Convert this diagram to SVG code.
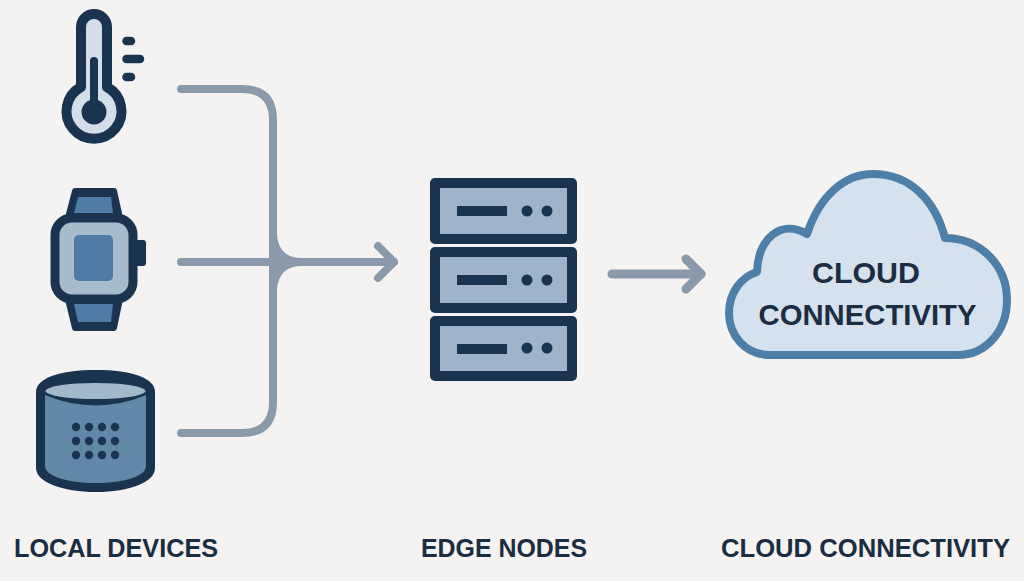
<svg xmlns="http://www.w3.org/2000/svg" width="1024" height="581" viewBox="0 0 1024 581">
<style>
.dark{fill:#1a3450}
.ds{stroke:#1a3450;stroke-linecap:round;stroke-linejoin:round;fill:none}
.conn{stroke:#8a9aaa;stroke-width:8;fill:none;stroke-linecap:round;stroke-linejoin:round}
.conn2{stroke:#8a9aaa;stroke-width:9;fill:none;stroke-linecap:round;stroke-linejoin:round}
.srv{fill:#9fb4ca;stroke:#1a3450;stroke-width:10;stroke-linejoin:round}
.strap{fill:#1a3450;stroke:#1a3450;stroke-width:6;stroke-linejoin:round}
text{font-family:"Liberation Sans",Arial,sans-serif;font-weight:700;fill:#1a2d42}
</style>
<rect width="1024" height="581" fill="#f4f3f1"/>
<g id="connectors">
<path class="conn" d="M181 89H242Q273 89 273 120V402Q273 433 242 433H181"/>
<path class="conn" d="M181 262H394"/>
<path class="conn" d="M378 246L394 262L378 278"/>
<path d="M269 235H277Q279 258 302 258V266Q279 266 277 289H269Z" fill="#8a9aaa"/>
<path class="conn2" d="M612 274H701"/>
<path class="conn2" d="M686 259L701 274L686 289"/>
</g>
<g id="thermometer">
<path d="M81 87V27A13 13 0 0 1 107 27V87A27.500 27.500 0 1 1 81 87Z" fill="#d3dee8" stroke="#1a3450" stroke-width="10" stroke-linejoin="round"/>
<circle class="dark" cx="94" cy="112" r="12.500"/>
<path class="ds" stroke-width="8" d="M94 61V104"/>
<path class="ds" stroke-width="8.500" d="M126.500 41H131M126.500 59H140M126.500 77H131"/>
</g>
<g id="watch">
<path class="strap" d="M75 191H114L120 218H68Z"/>
<path class="strap" d="M68 299H120L114 328H75Z"/>
<path d="M78 197H111L113 213H74Z" fill="#4f7ba6"/>
<path d="M74 304H113L111 322H78Z" fill="#4f7ba6"/>
<rect x="135" y="240" width="11" height="26" rx="3" class="dark"/>
<rect x="55" y="218" width="78" height="81" rx="17" fill="#a9bccd" stroke="#1a3450" stroke-width="9"/>
<rect x="74" y="235" width="39" height="46" rx="5" fill="#4f7ba6"/>
</g>
<g id="speaker">
<path class="dark" d="M36 392C36 378 60 370 96 370C132 370 155 378 155 392V468C155 482 130 492 96 492C62 492 36 482 36 468Z"/>
<path d="M45 395Q96 416 146 395V466C146 476 125 483 96 483C67 483 45 476 45 466Z" fill="#6288a8"/>
<ellipse cx="95.500" cy="391" rx="50" ry="8" fill="#a3b8ca"/>
<g class="dark">
<circle cx="76" cy="427" r="4.200"/><circle cx="89" cy="427" r="4.200"/><circle cx="102" cy="427" r="4.200"/><circle cx="115" cy="427" r="4.200"/>
<circle cx="76" cy="441" r="4.200"/><circle cx="89" cy="441" r="4.200"/><circle cx="102" cy="441" r="4.200"/><circle cx="115" cy="441" r="4.200"/>
<circle cx="76" cy="455" r="4.200"/><circle cx="89" cy="455" r="4.200"/><circle cx="102" cy="455" r="4.200"/><circle cx="115" cy="455" r="4.200"/>
</g>
</g>
<g id="edge-server">
<rect class="srv" x="435" y="183" width="137" height="56"/>
<rect class="dark" x="457" y="206" width="50" height="10"/>
<circle class="dark" cx="527" cy="211" r="5.500"/><circle class="dark" cx="547" cy="211" r="5.500"/>
<rect class="srv" x="435" y="252" width="137" height="56"/>
<rect class="dark" x="457" y="275" width="50" height="10"/>
<circle class="dark" cx="527" cy="280" r="5.500"/><circle class="dark" cx="547" cy="280" r="5.500"/>
<rect class="srv" x="435" y="321" width="137" height="55"/>
<rect class="dark" x="457" y="344" width="50" height="10"/>
<circle class="dark" cx="527" cy="348" r="5.500"/><circle class="dark" cx="547" cy="348" r="5.500"/>
</g>
<g id="cloud">
<path d="M770 355C745 355 729 335 729 313C729 293 741 277 757 272C758 240 780 218 807 234C820 195 845 174 873 174C910 174 935 200 945 238C980 238 1007 265 1007 300C1007 332 985 355 958 355Z" fill="#d5e1ec" stroke="#4d7fa8" stroke-width="8" stroke-linejoin="round"/>
<text x="866" y="283" font-size="30" text-anchor="middle" textLength="108" lengthAdjust="spacingAndGlyphs">CLOUD</text>
<text x="867.500" y="325" font-size="30" text-anchor="middle" textLength="218" lengthAdjust="spacingAndGlyphs">CONNECTIVITY</text>
</g>
<text x="14" y="556.500" font-size="26.500" textLength="204" lengthAdjust="spacingAndGlyphs">LOCAL DEVICES</text>
<text x="421" y="556.500" font-size="26.500" textLength="166" lengthAdjust="spacingAndGlyphs">EDGE NODES</text>
<text x="721" y="556.500" font-size="26.500" textLength="289" lengthAdjust="spacingAndGlyphs">CLOUD CONNECTIVITY</text>
</svg>
